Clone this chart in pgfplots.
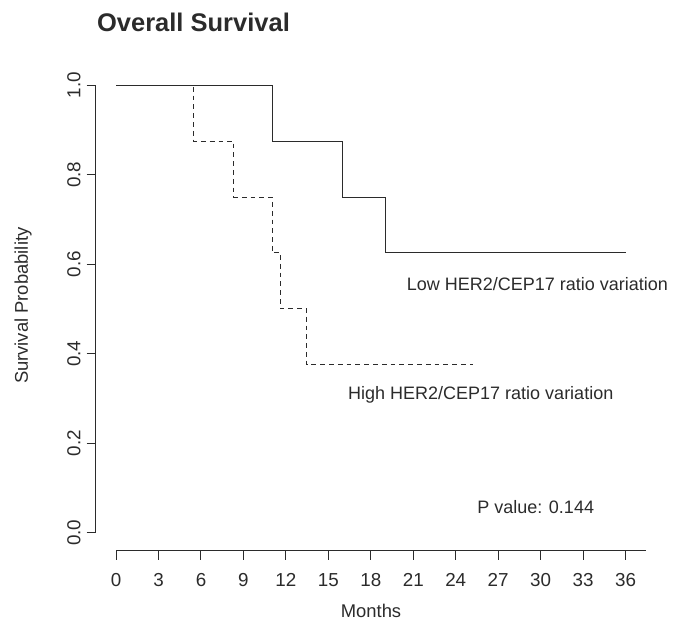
\documentclass[border=0pt]{standalone}
\usepackage{fontspec}
\setmainfont{Liberation Sans}
\usepackage{pgfplots}
\pgfplotsset{compat=1.18}

\definecolor{ink}{HTML}{2B2B2B}

\begin{document}
\begin{tikzpicture}[x=1pt,y=1pt]
\path[use as bounding box] (0,0) rectangle (340,310.5);
\node[anchor=west, inner sep=0, text=ink, font=\fontsize{12.75}{15}\selectfont\bfseries] at (48.35,299.15) {Overall Survival};
\begin{axis}[
  at={(47.85pt,35.15pt)}, anchor=south west,
  scale only axis, width=275.1pt, height=241.75pt,
  xmin=-1.44, xmax=37.44, ymin=-0.04, ymax=1.04,
  axis lines*=left, axis line style={draw=none, -},
  tick align=outside, major tick length=4.5pt,
  tick style={ink, line width=0.5pt},
  xtick={0,3,...,36}, ytick={0,0.2,0.4,0.6,0.8,1},
  /pgf/number format/assume math mode=true,
  /pgf/number format/.cd, fixed, fixed zerofill, precision=1, /pgfplots/.cd,
  xticklabel={\pgfmathprintnumber[fixed, precision=0]{\tick}},
  ticklabel style={font=\fontsize{9.4}{10}\selectfont, text=ink},
  xticklabel shift=3.5pt,
  yticklabel style={rotate=90, anchor=south},
  yticklabel shift=-0.5pt,
  xlabel={Months}, ylabel={Survival Probability},
  label style={font=\fontsize{9.2}{10}\selectfont, text=ink},
  xlabel style={at={(axis description cs:0.5004,-0.1245)}, anchor=center},
  ylabel style={at={(axis description cs:-0.132,0.5067)}, anchor=center, rotate=0},
  clip=false,
]
% axis lines drawn R-style
\draw[ink, line width=0.5pt] (axis cs:-1.44,0) -- (axis cs:-1.44,1);
\draw[ink, line width=0.5pt] (axis cs:0,-0.04) -- (axis cs:37.44,-0.04);

% low ratio variation
\addplot[const plot, ink, line width=0.5pt] coordinates {
 (0,1) (11.02,0.875) (15.97,0.75) (19.04,0.625) (36,0.625)
};
% high ratio variation
\addplot[const plot, ink, line width=0.5pt, dash pattern=on 2.4pt off 2pt] coordinates {
 (0,1) (5.47,0.875) (8.30,0.75) (11.02,0.625) (11.62,0.5) (13.48,0.375) (25.2,0.375)
};

\node[inner sep=0, text=ink, font=\fontsize{9}{10}\selectfont] at (axis cs:29.77,0.555) {Low HER2/CEP17 ratio variation};
\node[inner sep=0, text=ink, font=\fontsize{9}{10}\selectfont] at (axis cs:25.77,0.309) {High HER2/CEP17 ratio variation};
\node[inner sep=0, text=ink, font=\fontsize{9}{10}\selectfont] at (axis cs:29.65,0.057) {P value: 0.144};
\end{axis}
\end{tikzpicture}
\end{document}
